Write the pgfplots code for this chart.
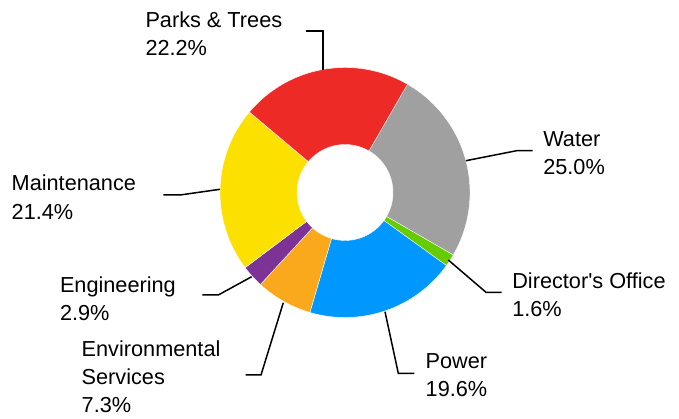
\documentclass[border=0pt]{standalone}
\usepackage{pgfplots}
\pgfplotsset{compat=1.18}
\usepackage{fontspec}
\setmainfont{Liberation Sans}[Ligatures=TeXOff]
\definecolor{cWater}{HTML}{A0A0A0}
\definecolor{cDir}{HTML}{66CC00}
\definecolor{cPower}{HTML}{0098FF}
\definecolor{cEnv}{HTML}{FAA91C}
\definecolor{cEng}{HTML}{7D3396}
\definecolor{cMaint}{HTML}{FCE000}
\definecolor{cParks}{HTML}{EE2A27}
% shares (percent)
\def\vWater{25.0}
\def\vDir{1.6}
\def\vPower{19.6}
\def\vEnv{7.3}
\def\vEng{2.9}
\def\vMaint{21.4}
\def\vParks{22.2}
\def\cx{345}
\def\cy{226.5}
\def\Ro{125}
\def\Ri{48}
\pgfmathsetmacro\aO{60}
\pgfmathsetmacro\aA{\aO-3.6*\vWater}
\pgfmathsetmacro\aB{\aA-3.6*\vDir}
\pgfmathsetmacro\aC{\aB-3.6*\vPower}
\pgfmathsetmacro\aD{\aC-3.6*\vEnv}
\pgfmathsetmacro\aE{\aD-3.6*\vEng}
\pgfmathsetmacro\aF{\aE-3.6*\vMaint}
\pgfmathsetmacro\aG{\aF-3.6*\vParks}
\newcommand\slice[3]{%
  \fill[#3, draw=white, line width=0.4pt]
    ({\cx+\Ro*cos(#1)},{\cy+\Ro*sin(#1)}) arc[start angle=#1, end angle=#2, radius=\Ro]
    -- ({\cx+\Ri*cos(#2)},{\cy+\Ri*sin(#2)}) arc[start angle=#2, end angle=#1, radius=\Ri] -- cycle;}
\tikzset{lab/.style={font=\fontsize{21.7}{26}\selectfont, inner sep=0pt, outer sep=0pt, anchor=base west}}
\begin{document}%
\begin{tikzpicture}
\begin{axis}[hide axis, scale only axis, width=679pt, height=419pt,
  xmin=0, xmax=679, ymin=0, ymax=419, clip=false, xtick=\empty, ytick=\empty]
\coordinate (BL) at (axis cs:0,0);
\coordinate (TR) at (axis cs:679,419);
\slice{\aO}{\aA}{cWater}
\slice{\aA}{\aB}{cDir}
\slice{\aB}{\aC}{cPower}
\slice{\aC}{\aD}{cEnv}
\slice{\aD}{\aE}{cEng}
\slice{\aE}{\aF}{cMaint}
\slice{\aF}{\aG}{cParks}
% leader lines (y = 419 - pixel row)
\addplot[black, line width=1.5pt, mark=none] coordinates {(323,349) (323,388) (306,388)};
\addplot[black, line width=1.5pt, mark=none] coordinates {(466,258.3) (516.7,268.3) (532.7,268.3)};
\addplot[black, line width=1.5pt, mark=none] coordinates {(448.3,159) (486,126.7) (501.7,126.7)};
\addplot[black, line width=1.5pt, mark=none] coordinates {(385,107.3) (398.3,45.7) (414.3,45.7)};
\addplot[black, line width=1.5pt, mark=none] coordinates {(220,229.7) (180,224) (163.3,224)};
\addplot[black, line width=1.5pt, mark=none] coordinates {(251.7,142.3) (218.3,124) (202.3,124)};
\addplot[black, line width=1.5pt, mark=none] coordinates {(283.3,116.3) (261,44) (245.7,44)};
% labels
\node[lab] at (145.5,391.5) {Parks \& Trees};
\node[lab] at (145.5,363.5) {22.2\%};
\node[lab] at (543.3,272) {Water};
\node[lab] at (543.3,244) {25.0\%};
\node[lab] at (512.3,130.5) {Director's Office};
\node[lab] at (512.3,102) {1.6\%};
\node[lab] at (425.7,50.5) {Power};
\node[lab] at (425.7,22.3) {19.6\%};
\node[lab] at (11.7,228) {Maintenance};
\node[lab] at (11.7,199.5) {21.4\%};
\node[lab] at (60,126) {Engineering};
\node[lab] at (60,98) {2.9\%};
\node[lab] at (81.7,62) {Environmental};
\node[lab] at (81.7,34) {Services};
\node[lab] at (81.7,6.5) {7.3\%};
\end{axis}
\pgfresetboundingbox
\path[use as bounding box] (BL) rectangle (TR);
\end{tikzpicture}%
\end{document}
